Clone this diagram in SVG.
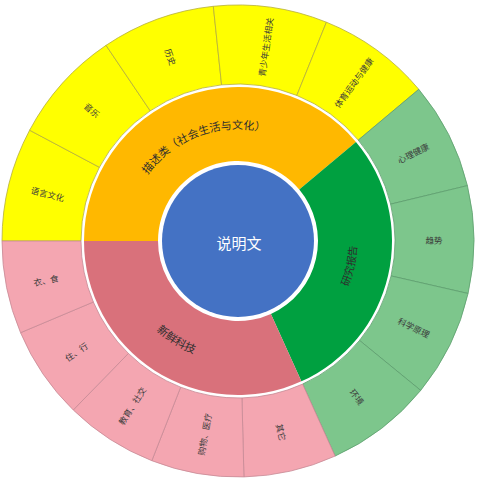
<svg xmlns="http://www.w3.org/2000/svg" width="480" height="480" viewBox="0 0 480 480">
<style>
  .lbl { font-family: "Noto Sans CJK SC", "Noto Sans", sans-serif; font-size: 8.5px; fill: #3a3a3a; text-anchor: middle; dominant-baseline: central; }
  .mid { font-family: "Noto Sans CJK SC", "Noto Sans", sans-serif; font-size: 11px; fill: #2e2e2e; }
  .y { fill: #FFFF00; stroke: #B5AE3C; stroke-width: 0.8; }
  .g { fill: #7DC68C; stroke: #5E9E6E; stroke-width: 0.8; }
  .p { fill: #F4A6B1; stroke: #C78A95; stroke-width: 0.8; }
</style>
<defs>
  <path id="arcOrange" d="M132.75,202.69 A112,112 0 0 1 294,144"/>
  <path id="arcPink" d="M124.3,282.38 A121,121 0 0 0 250.65,361.34"/>
  <path id="arcGreen" d="M310.44,335.41 A119,119 0 0 0 343.55,186.05"/>
</defs>
<rect width="480" height="480" fill="#ffffff"/>

<g id="outer-ring">
  <g id="n-yuyan"><path class="y" d="M2,241 A236,236 0 0 1 29.62,130.21 L99.38,167.29 A157,157 0 0 0 81,241 Z"/>
    <text class="lbl" transform="translate(47.82,193.58) rotate(14)">语言文化</text></g>
  <g id="n-yinyue"><path class="y" d="M29.62,130.21 A236,236 0 0 1 106.03,45.35 L150.21,110.84 A157,157 0 0 0 99.38,167.29 Z"/>
    <text class="lbl" transform="translate(92.34,109.85) rotate(42)">音乐</text></g>
  <g id="n-lishi"><path class="y" d="M106.03,45.35 A236,236 0 0 1 213.33,6.29 L221.59,84.86 A157,157 0 0 0 150.21,110.84 Z"/>
    <text class="lbl" transform="translate(170.96,56.82) rotate(70)">历史</text></g>
  <g id="n-qingshaonian"><path class="y" d="M213.33,6.29 A236,236 0 0 1 326.41,22.19 L296.81,95.43 A157,157 0 0 0 221.59,84.86 Z"/>
    <text class="lbl" transform="translate(265.28,46.91) rotate(-82)">青少年生活相关</text></g>
  <g id="n-tiyu"><path class="y" d="M326.41,22.19 A236,236 0 0 1 418.79,89.3 L358.27,140.08 A157,157 0 0 0 296.81,95.43 Z"/>
    <text class="lbl" transform="translate(353.21,82.43) rotate(-54)">体育运动与健康</text></g>

  <g id="n-xinli"><path class="g" d="M418.79,89.3 A236,236 0 0 1 467.41,185.6 L390.61,204.15 A157,157 0 0 0 358.27,140.08 Z"/>
    <text class="lbl" transform="translate(412.96,152.67) rotate(-26.8)">心理健康</text></g>
  <g id="n-qushi"><path class="g" d="M467.41,185.6 A236,236 0 0 1 468.09,293.49 L391.07,275.92 A157,157 0 0 0 390.61,204.15 Z"/>
    <text class="lbl" transform="translate(434,239.76) rotate(-0.4)">趋势</text></g>
  <g id="n-kexue"><path class="g" d="M468.09,293.49 A236,236 0 0 1 420.69,390.43 L359.53,340.41 A157,157 0 0 0 391.07,275.92 Z"/>
    <text class="lbl" transform="translate(414.08,327.1) rotate(26.1)">科学原理</text></g>
  <g id="n-huanjing"><path class="g" d="M420.69,390.43 A236,236 0 0 1 335.12,456.09 L302.61,384.09 A157,157 0 0 0 359.53,340.41 Z"/>
    <text class="lbl" transform="translate(357.36,396.46) rotate(52.5)">环境</text></g>

  <g id="n-qita"><path class="p" d="M335.12,456.09 A236,236 0 0 1 243.93,476.92 L241.95,397.95 A157,157 0 0 0 302.61,384.09 Z"/>
    <text class="lbl" transform="translate(281.66,432.08) rotate(77.1)">其它</text></g>
  <g id="n-gouwu"><path class="p" d="M243.93,476.92 A236,236 0 0 1 151.82,460.7 L180.67,387.16 A157,157 0 0 0 241.95,397.95 Z"/>
    <text class="lbl" transform="translate(204,434.03) rotate(-80)">购物、医疗</text></g>
  <g id="n-jiaoyu"><path class="p" d="M151.82,460.7 A236,236 0 0 1 73.26,409.99 L128.41,353.42 A157,157 0 0 0 180.67,387.16 Z"/>
    <text class="lbl" transform="translate(131.67,405.65) rotate(-57.15)">教育、社交</text></g>
  <g id="n-zhuxing"><path class="p" d="M73.26,409.99 A236,236 0 0 1 20.54,332.7 L93.33,302 A157,157 0 0 0 128.41,353.42 Z"/>
    <text class="lbl" transform="translate(76.06,351.41) rotate(-34.3)">住、行</text></g>
  <g id="n-yishi"><path class="p" d="M20.54,332.7 A236,236 0 0 1 2,241 L81,241 A157,157 0 0 0 93.33,302 Z"/>
    <text class="lbl" transform="translate(45.89,279.84) rotate(-11.4)">衣、食</text></g>
</g>

<g id="middle-ring">
  <g id="n-miaoshu"><path fill="#FFB800" d="M84,241 A154,154 0 0 1 355.97,142.01 L299.28,189.58 A80,80 0 0 0 158,241 Z"/>
    <text class="mid"><textPath href="#arcOrange" startOffset="50%" text-anchor="middle">描述类（社会生活与文化）</textPath></text></g>
  <g id="n-yanjiu"><path fill="#00A040" d="M355.97,142.01 A154,154 0 0 1 301.37,381.36 L270.92,313.91 A80,80 0 0 0 299.28,189.58 Z"/>
    <text class="mid" style="font-size:10.5px"><textPath href="#arcGreen" startOffset="50%" text-anchor="middle">研究报告</textPath></text></g>
  <g id="n-xinxian"><path fill="#D9717B" d="M301.37,381.36 A154,154 0 0 1 84,241 L158,241 A80,80 0 0 0 270.92,313.91 Z"/>
    <text class="mid"><textPath href="#arcPink" startOffset="50%" text-anchor="middle">新鲜科技</textPath></text></g>
</g>

<g id="n-center">
  <circle cx="238" cy="241" r="76" fill="#4472C4"/>
  <text x="239" y="242" font-family="Noto Sans CJK SC, Noto Sans, sans-serif" font-size="15" fill="#ffffff" text-anchor="middle" dominant-baseline="central">说明文</text>
</g>
</svg>
